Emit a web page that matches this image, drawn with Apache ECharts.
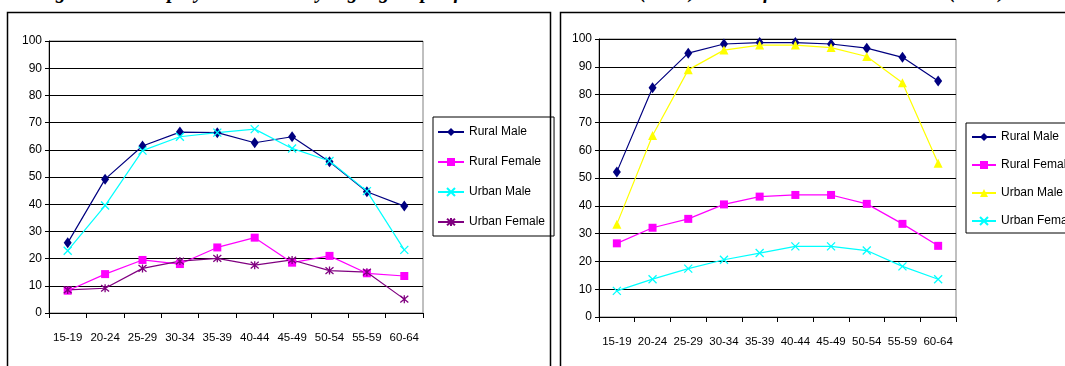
<!DOCTYPE html>
<html>
<head>
<meta charset="utf-8">
<script src="https://cdn.jsdelivr.net/npm/echarts@6/dist/echarts.min.js"></script>
<style>
  html, body { margin: 0; padding: 0; background: #fff; overflow: hidden; }
  body { width: 1065px; height: 366px; position: relative; }
  #title {
    position: absolute; left: 36px; top: -19px; white-space: nowrap; letter-spacing: 0.6px; word-spacing: 6px;
    font: italic bold 20px "Liberation Serif", "DejaVu Serif", serif; color: #000; line-height: 20px;
  }
  #left  { position: absolute; left: 0; top: 0; width: 555px; height: 366px; }
  #right { position: absolute; left: 555px; top: 0; width: 510px; height: 366px; }
</style>
</head>
<body>
<div id="title">Figure 3: Employment rate by age group of men and women (2000) and of men and women (2005)</div>
<div id="left"></div>
<div id="right"></div>
<script>
// Age groups shared by both panels
const ageGroups = ['15-19', '20-24', '25-29', '30-34', '35-39', '40-44', '45-49', '50-54', '55-59', '60-64'];
const yTicks = [0, 10, 20, 30, 40, 50, 60, 70, 80, 90, 100];

// Left panel
const leftRuralMale     = [25.8, 49.2, 61.4, 66.5, 66.3, 62.6, 64.8, 55.6, 44.6, 39.3];
const leftRuralFemale   = [8.2, 14.3, 19.5, 18.0, 24.1, 27.7, 18.5, 21.0, 14.6, 13.6];
const leftUrbanMale     = [22.9, 39.5, 59.7, 64.8, 66.3, 67.6, 60.5, 55.9, 44.8, 23.2];
const leftUrbanFemale   = [8.5, 9.1, 16.4, 19.1, 20.1, 17.6, 19.5, 15.6, 15.0, 5.1];

// Right panel
const rightRuralMale    = [52.2, 82.5, 94.9, 98.2, 98.7, 98.7, 98.2, 96.7, 93.4, 84.9];
const rightRuralFemale  = [26.5, 32.1, 35.3, 40.5, 43.3, 43.9, 43.9, 40.7, 33.5, 25.6];
const rightUrbanMale    = [33.4, 65.3, 88.9, 96.0, 97.8, 97.8, 96.9, 93.7, 84.3, 55.3];
const rightUrbanFemale  = [9.4, 13.6, 17.4, 20.6, 23.0, 25.4, 25.4, 23.9, 18.2, 13.6];

const FONT = '"Liberation Sans", Arial, sans-serif';
const X_MARK = 'path://M0,0L10,10M10,0L0,10';
const STAR_MARK = 'path://M0,0L10,10M10,0L0,10M5,-1L5,11';

function series(name, data, color, symbol, size, stroked) {
  return {
    name: name, type: 'line', data: data,
    symbol: symbol, symbolSize: size, showSymbol: true,
    lineStyle: { color: color, width: 1.2 },
    itemStyle: stroked ? { color: color, borderColor: color, borderWidth: 1.3 } : { color: color, borderWidth: 0 },
    emphasis: { disabled: true },
    animation: false
  };
}

function panelOption(cfg) {
  return {
    animation: false,
    graphic: [{
      type: 'rect', silent: true,
      shape: { x: cfg.boxX, y: 12.5, width: cfg.boxW, height: 400 },
      style: { fill: 'none', stroke: '#000', lineWidth: 1.5 }
    }],
    grid: {
      left: cfg.gridLeft, top: cfg.gridTop, width: cfg.gridW, height: cfg.gridH,
      show: true, borderColor: '#808080', borderWidth: 1, backgroundColor: 'transparent'
    },
    legend: {
      orient: 'vertical', left: cfg.legendLeft, top: cfg.legendTop,
      borderColor: '#000', borderWidth: 1, borderRadius: 0,
      padding: cfg.legendPad, itemGap: cfg.legendGap,
      itemWidth: cfg.legendItemW, itemHeight: 10,
      textStyle: { fontFamily: FONT, fontSize: 12, color: '#000', lineHeight: 16 },
      selectedMode: false
    },
    xAxis: {
      type: 'category', data: ageGroups, boundaryGap: true,
      axisLine: { lineStyle: { color: '#000', width: 1 } },
      axisTick: { show: true, length: 5, inside: false, lineStyle: { color: '#000' } },
      axisLabel: { fontFamily: FONT, fontSize: 11.5, color: '#000', margin: cfg.xLabelMargin, interval: 0 },
      splitLine: { show: false }
    },
    yAxis: {
      type: 'value', min: yTicks[0], max: yTicks[yTicks.length - 1], interval: 10,
      axisLine: { show: true, lineStyle: { color: '#000', width: 1 } },
      axisTick: { show: true, length: 4, lineStyle: { color: '#000' } },
      axisLabel: { fontFamily: FONT, fontSize: 12, color: '#000', margin: 7 },
      splitLine: { show: true, lineStyle: { color: '#000', width: 1 } }
    },
    series: cfg.series
  };
}

const leftChart = echarts.init(document.getElementById('left'), null, { renderer: 'canvas' });
leftChart.setOption(panelOption({
  boxX: 7.5, boxW: 543,
  gridLeft: 49, gridTop: 41, gridW: 374, gridH: 272,
  legendLeft: 433, legendTop: 117, legendPad: [7, 9, 6, 4], legendGap: 14, legendItemW: 26,
  xLabelMargin: 19,
  series: [
    series('Rural Male', leftRuralMale, '#000080', 'diamond', [8, 11], false),
    series('Rural Female', leftRuralFemale, '#FF00FF', 'rect', 8, false),
    series('Urban Male', leftUrbanMale, '#00FFFF', X_MARK, 8, true),
    series('Urban Female', leftUrbanFemale, '#800080', STAR_MARK, 8, true)
  ]
}));

const rightChart = echarts.init(document.getElementById('right'), null, { renderer: 'canvas' });
rightChart.setOption(panelOption({
  boxX: 5.5, boxW: 600,
  gridLeft: 44, gridTop: 39, gridW: 357, gridH: 278,
  legendLeft: 411, legendTop: 123, legendPad: [6, 12, 4, 5], legendGap: 12, legendItemW: 24,
  xLabelMargin: 19,
  series: [
    series('Rural Male', rightRuralMale, '#000080', 'diamond', [8, 11], false),
    series('Rural Female', rightRuralFemale, '#FF00FF', 'rect', 8, false),
    series('Urban Male', rightUrbanMale, '#FFFF00', 'triangle', 9, false),
    series('Urban Female', rightUrbanFemale, '#00FFFF', X_MARK, 8, true)
  ]
}));
</script>
</body>
</html>
